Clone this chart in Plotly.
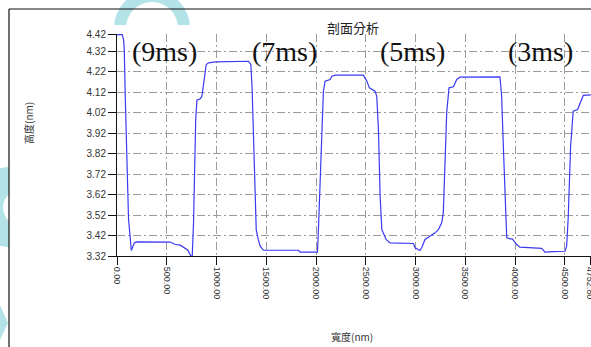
import plotly.graph_objects as go

# Profile scan: lateral position (nm) vs. height (nm)
width_nm = [0, 53, 66, 73, 83, 100, 116, 127, 134, 144, 174, 194, 535, 585, 636, 686, 713, 741,
            756, 769, 779, 791, 803, 836, 853, 877, 897, 920, 987, 1321, 1345, 1358, 1371, 1383,
            1399, 1419, 1439, 1472, 1823, 1840, 2014, 2024, 2041, 2058, 2074, 2091, 2142, 2159,
            2192, 2476, 2510, 2536, 2593, 2610, 2627, 2644, 2661, 2704, 2744, 2978, 2995, 3045,
            3068, 3095, 3146, 3196, 3229, 3263, 3279, 3296, 3313, 3336, 3380, 3414, 3447, 3848,
            3865, 3882, 3899, 3916, 3949, 3972, 4016, 4049, 4267, 4300, 4384, 4501, 4518, 4534,
            4558, 4584, 4628, 4652, 4685, 4762]
height_nm = [4.401, 4.401, 4.376, 4.328, 4.099, 3.777, 3.498, 3.440, 3.401, 3.347, 3.384, 3.389,
             3.388, 3.376, 3.373, 3.359, 3.348, 3.320, 3.321, 3.484, 3.777, 3.986, 4.081, 4.088,
             4.100, 4.182, 4.255, 4.263, 4.268, 4.271, 4.255, 4.133, 3.938, 3.694, 3.449, 3.401,
             3.368, 3.348, 3.348, 3.339, 3.339, 3.449, 3.694, 3.938, 4.125, 4.174, 4.182, 4.198,
             4.203, 4.203, 4.174, 4.141, 4.125, 4.100, 3.938, 3.612, 3.449, 3.401, 3.384, 3.381,
             3.360, 3.347, 3.368, 3.401, 3.417, 3.433, 3.449, 3.482, 3.532, 3.777, 4.021, 4.141,
             4.146, 4.182, 4.193, 4.195, 4.100, 3.856, 3.612, 3.410, 3.404, 3.404, 3.376, 3.363,
             3.357, 3.339, 3.341, 3.343, 3.368, 3.508, 3.856, 4.027, 4.035, 4.068, 4.104, 4.107]

# Axis ticks
x_tick_vals = [0, 500, 1000, 1500, 2000, 2500, 3000, 3500, 4000, 4500, 4752.8]
x_tick_text = ["0.00", "500.00", "1000.00", "1500.00", "2000.00", "2500.00", "3000.00",
               "3500.00", "4000.00", "4500.00", "4752.80"]
y_tick_vals = [3.32, 3.42, 3.52, 3.62, 3.72, 3.82, 3.92, 4.02, 4.12, 4.22, 4.32, 4.4015]
y_tick_text = ["3.32", "3.42", "3.52", "3.62", "3.72", "3.82", "3.92", "4.02", "4.12",
               "4.22", "4.32", "4.42"]

# Pulse-width labels and where they sit
pulse_labels = ["(9ms)", "(7ms)", "(5ms)", "(3ms)"]
pulse_x = [480, 1680, 2970, 4255]
pulse_y = [4.32, 4.32, 4.32, 4.32]

W, H = 591, 347
L, R, T, B = 117, 0, 34, 91
PW, PH = W - L - R, H - T - B


def fx(px):
    return (px - L) / PW


def fy(py):
    return (H - B - py) / PH


fig = go.Figure()
fig.add_trace(go.Scatter(x=width_nm, y=height_nm, mode="lines",
                         line=dict(color="#3a3af2", width=1.2), showlegend=False))

for txt, xv, yv in zip(pulse_labels, pulse_x, pulse_y):
    fig.add_annotation(x=xv, y=yv, xref="x", yref="y", text=txt, showarrow=False,
                       xanchor="center", yanchor="middle",
                       font=dict(family="Liberation Serif", size=28, color="#111111"))

fig.add_annotation(x=fx(353), y=fy(27), xref="paper", yref="paper", text="剖面分析",
                   showarrow=False, xanchor="center", yanchor="middle",
                   font=dict(family="Noto Sans CJK TC", size=13, color="#222"))
fig.add_annotation(x=fx(28), y=fy(123), xref="paper", yref="paper", text="高度(nm)",
                   textangle=-90, showarrow=False, xanchor="center", yanchor="middle",
                   font=dict(family="Noto Sans CJK TC", size=10, color="#333"))
fig.add_annotation(x=fx(352), y=fy(336), xref="paper", yref="paper", text="寬度(nm)",
                   showarrow=False, xanchor="center", yanchor="middle",
                   font=dict(family="Noto Sans CJK TC", size=10, color="#333"))

teal = "#b3e2e7"
# background decorative marks (left crescent)
fig.add_shape(type="circle", xref="paper", yref="paper", layer="below",
              x0=fx(-30), x1=fx(50), y0=fy(247), y1=fy(167),
              fillcolor=teal, line=dict(width=0))
fig.add_shape(type="circle", xref="paper", yref="paper", layer="below",
              x0=fx(3), x1=fx(40), y0=fy(226), y1=fy(189),
              fillcolor="white", line=dict(width=0))
fig.add_shape(type="rect", xref="paper", yref="paper", layer="below",
              x0=fx(9), x1=fx(60), y0=fy(250), y1=fy(160),
              fillcolor="white", line=dict(width=0))
# lower-left wedge
fig.add_shape(type="path", xref="paper", yref="paper", layer="below",
              path=f"M {fx(0)},{fy(305)} L {fx(8)},{fy(323)} L {fx(0)},{fy(340)} Z",
              fillcolor=teal, line=dict(width=0))
# top arch
fig.add_shape(type="circle", xref="paper", yref="paper", layer="below",
              x0=fx(114), x1=fx(190), y0=fy(66), y1=fy(-10),
              fillcolor=teal, line=dict(width=0))
fig.add_shape(type="circle", xref="paper", yref="paper", layer="below",
              x0=fx(126), x1=fx(178), y0=fy(54), y1=fy(2),
              fillcolor="white", line=dict(width=0))
fig.add_shape(type="rect", xref="paper", yref="paper", layer="below",
              x0=fx(100), x1=fx(200), y0=fy(100), y1=fy(25),
              fillcolor="white", line=dict(width=0))

# outer frame
fig.add_shape(type="line", xref="paper", yref="paper", x0=fx(9), x1=fx(600),
              y0=fy(9), y1=fy(9), line=dict(color="#111", width=1.2))
fig.add_shape(type="line", xref="paper", yref="paper", x0=fx(9), x1=fx(9),
              y0=fy(9), y1=fy(360), line=dict(color="#111", width=1.2))

grid = dict(showgrid=True, gridcolor="#9c9c9c", gridwidth=1, griddash="8px,3px,2px,3px")
fig.update_xaxes(range=[0, 4752.8 * PW / (590 - L)], tickvals=x_tick_vals, ticktext=x_tick_text,
                 tickangle=90, ticks="outside", ticklen=8, tickcolor="#111",
                 ticklabeloverflow="allow",
                 showline=True, linecolor="#111", linewidth=1, zeroline=False,
                 tickfont=dict(family="Liberation Sans", size=9, color="#333"), **grid)
fig.update_yaxes(range=[3.32, 3.32 + (H - B - T) / 204.8], tickvals=y_tick_vals,
                 ticktext=y_tick_text, ticks="outside", ticklen=8, tickcolor="#111",
                 showline=True, linecolor="#111", linewidth=1, zeroline=False,
                 tickfont=dict(family="Liberation Sans", size=10, color="#333"), **grid)

fig.update_layout(width=W, height=H, margin=dict(l=L, r=R, t=T, b=B, autoexpand=False),
                  paper_bgcolor="white", plot_bgcolor="white")

fig.write_html("out.html")
